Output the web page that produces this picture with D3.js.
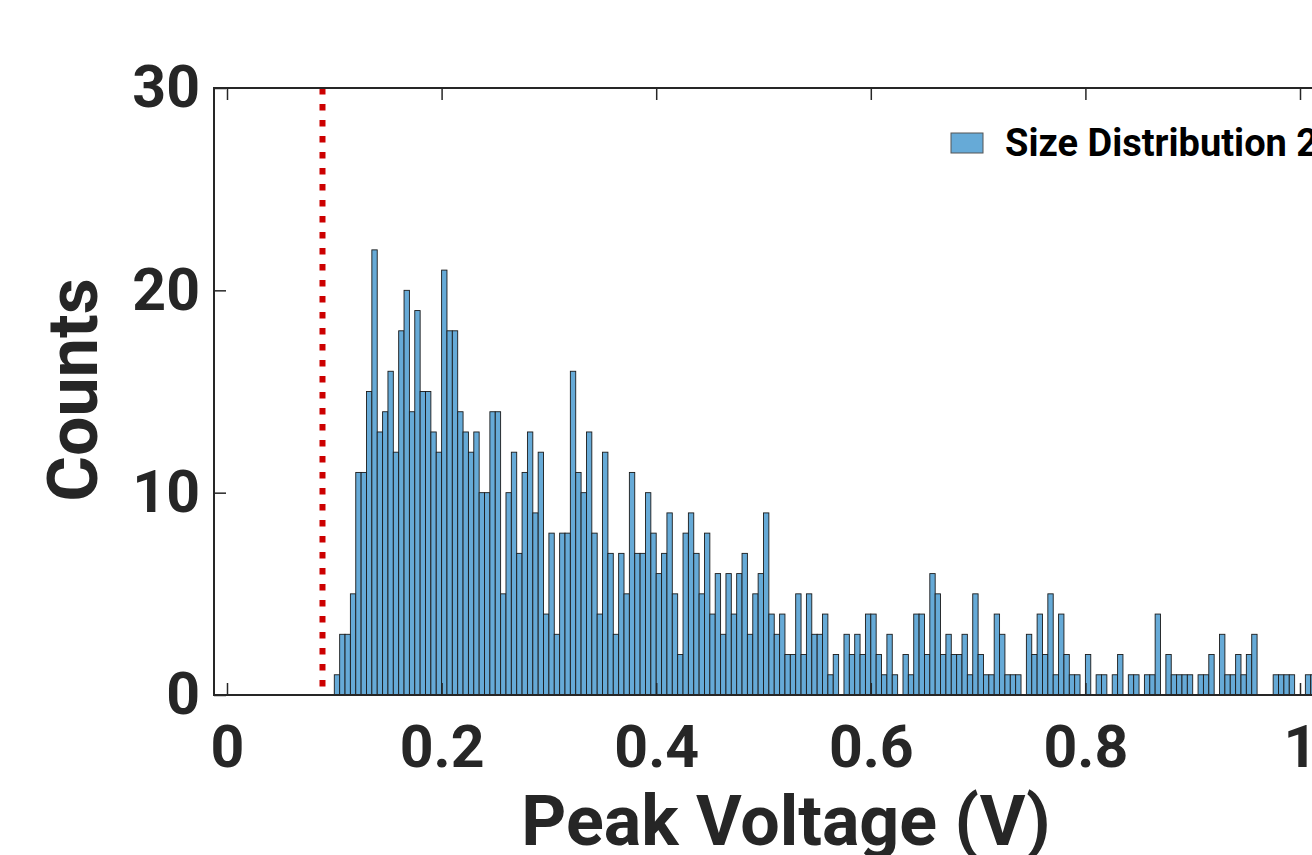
<!DOCTYPE html>
<meta charset="utf-8">
<script src="https://d3js.org/d3.v7.min.js"></script>
<style>
  html, body { margin: 0; padding: 0; background: #fff; }
  svg { display: block; font-family: Roboto, 'Liberation Sans', sans-serif; font-weight: bold; }
</style>
<body>
<div id="my_dataviz"></div>
<script>

// histogram counts, bins of 0.005 V starting at 0.1 V
var binStart = 0.1, binWidth = 0.005;
var counts = [
  1,3,3,5,11,11,15,22,13,14,16,12,18,20,14,19,15,15,13,12,
  21,18,18,14,13,12,13,10,10,14,14,5,10,12,7,11,13,9,12,4,
  8,3,8,8,16,11,10,13,8,4,12,7,3,7,5,11,7,7,10,8,
  6,7,9,5,2,8,9,7,5,8,4,6,3,6,4,6,7,3,5,6,
  9,4,3,4,2,2,5,2,5,3,3,4,1,2,0,3,2,3,2,4,
  4,2,1,3,1,0,2,1,4,4,2,6,5,2,3,2,2,3,1,5,
  2,1,1,4,3,1,1,1,0,3,2,4,2,5,1,4,2,1,1,0,
  2,0,1,1,0,1,2,0,1,1,0,1,1,4,0,2,1,1,1,1,
  0,1,1,2,0,3,1,1,2,1,2,3,0,0,0,1,1,1,1,0,
  0,1,1
];
var xTicks = [0, 0.2, 0.4, 0.6, 0.8, 1];
var xTickLabels = ["0", "0.2", "0.4", "0.6", "0.8", "1"];
var yTicks = [0, 10, 20, 30];
var thresholdV = 0.089;
var legendLabel = "Size Distribution 2";

var width = 1312, height = 855;
const bar_color = "#66aad7";
const axis_color = "#262626";

var svg = d3.select("#my_dataviz")
  .append("svg")
    .attr("width", width)
    .attr("height", height);

var x = d3.scaleLinear().domain([0, 1]).range([227, 1300]);
var y = d3.scaleLinear().domain([0, 30]).range([695, 88]);
var boxLeft = 214, boxRight = 1340;

// bars
var bins = counts.map(function(c, i) {
  return { x0: binStart + i * binWidth, x1: binStart + (i + 1) * binWidth, n: c };
}).filter(function(d) { return d.n > 0; });

svg.append("g")
  .selectAll("rect")
  .data(bins)
  .enter()
  .append("rect")
    .attr("x", function(d) { return x(d.x0); })
    .attr("width", function(d) { return x(d.x1) - x(d.x0); })
    .attr("y", function(d) { return y(d.n); })
    .attr("height", function(d) { return y(0) - y(d.n); })
    .attr("fill", bar_color)
    .attr("stroke", "#1b1b1b")
    .attr("stroke-width", 0.9);

// threshold line
svg.append("line")
  .attr("x1", x(thresholdV)).attr("x2", x(thresholdV))
  .attr("y1", y(30)).attr("y2", y(0))
  .attr("stroke", "#cc0000")
  .attr("stroke-width", 6)
  .attr("stroke-dasharray", "6.5,9.5");

// axes (ticks point inward)
var xAxis = svg.append("g")
  .attr("transform", "translate(0," + y(0) + ")")
  .call(d3.axisBottom(x).tickValues(xTicks).tickSize(-12).tickPadding(30)
    .tickFormat(function(d, i) { return xTickLabels[i]; }));

var topAxis = svg.append("g")
  .attr("transform", "translate(0," + y(30) + ")")
  .call(d3.axisTop(x).tickValues(xTicks).tickSize(-12).tickFormat(""));

var yAxis = svg.append("g")
  .attr("transform", "translate(" + boxLeft + ",0)")
  .call(d3.axisLeft(y).tickValues(yTicks).tickSize(-12).tickPadding(14));

svg.selectAll(".domain").remove();
svg.selectAll(".tick line").attr("stroke", axis_color).attr("stroke-width", 1.5);
svg.selectAll(".tick text")
  .attr("fill", axis_color)
  .style("font-size", "59px")
  .style("font-family", "Roboto, sans-serif")
  .style("font-weight", "bold");

// box lines
svg.append("path")
  .attr("d", "M" + boxRight + "," + y(30) + "H" + boxLeft + "V" + y(0) + "H" + boxRight)
  .attr("fill", "none")
  .attr("stroke", axis_color)
  .attr("stroke-width", 2);

// axis labels
svg.append("text")
  .attr("x", 786)
  .attr("y", 845)
  .attr("text-anchor", "middle")
  .attr("fill", axis_color)
  .style("font-size", "70px")
  .text("Peak Voltage (V)");

svg.append("text")
  .attr("transform", "translate(97,390) rotate(-90)")
  .attr("text-anchor", "middle")
  .attr("fill", axis_color)
  .style("font-size", "70px")
  .text("Counts");

// legend
svg.append("rect")
  .attr("x", 951).attr("y", 133)
  .attr("width", 32).attr("height", 20)
  .attr("fill", bar_color)
  .attr("stroke", "#555")
  .attr("stroke-width", 1);

svg.append("text")
  .attr("x", 1005)
  .attr("y", 156)
  .attr("fill", "#000")
  .style("font-size", "38px")
  .text(legendLabel);

</script>
</body>
